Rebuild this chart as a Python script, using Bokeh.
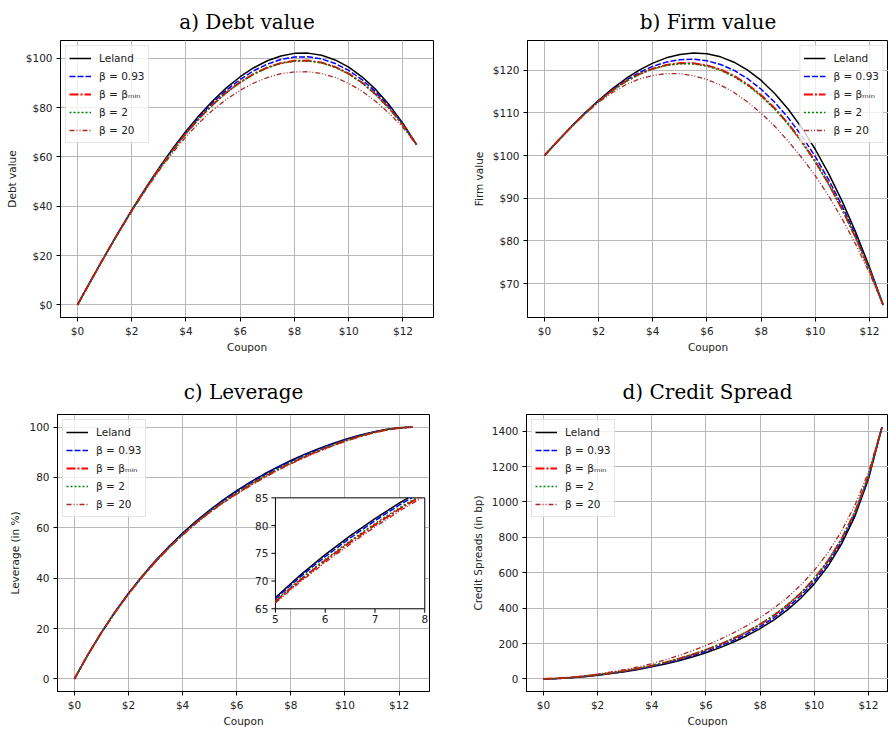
import numpy as np
from bokeh.plotting import figure
from bokeh.layouts import column, row
from bokeh.models import Range1d, FixedTicker
from bokeh.core.properties import value
from bokeh.embed import file_html
from bokeh.resources import INLINE

# ---------------- data ----------------
coupon = [0.0, 0.5, 1.0, 1.5, 2.0, 2.5, 3.0, 3.5, 4.0, 4.5, 5.0, 5.5, 6.0,
          6.5, 7.0, 7.5, 8.0, 8.5, 9.0, 9.5, 10.0, 10.5, 11.0, 11.5, 12.0, 12.5]

series_names = ["Leland", "β = 0.93", "β = βₘᵢₙ", "β = 2", "β = 20"]

debt_leland = [0, 9.96, 19.74, 29.25, 38.42, 47.18, 55.47, 63.24, 70.44, 77.01, 82.92, 88.12, 92.56,
               96.21, 99.03, 100.98, 102.03, 102.13, 101.25, 99.37, 96.43, 92.43, 87.31, 81.05, 73.63, 65.0]
debt_b093 = [0, 9.96, 19.72, 29.20, 38.32, 47.02, 55.23, 62.91, 70.00, 76.42, 82.16, 87.19, 91.46,
             94.97, 97.67, 99.54, 100.53, 100.62, 99.77, 97.95, 95.11, 91.27, 86.35, 80.37, 73.29, 65.0]
debt_bmin = [0, 9.95, 19.70, 29.15, 38.22, 46.86, 54.99, 62.58, 69.56, 75.83, 81.40, 86.26, 90.36,
             93.73, 96.31, 98.10, 99.03, 99.11, 98.29, 96.53, 93.79, 90.11, 85.39, 79.69, 72.95, 65.0]
debt_b2 = [0, 9.95, 19.70, 29.15, 38.21, 46.84, 54.97, 62.55, 69.52, 75.77, 81.32, 86.17, 90.25,
           93.61, 96.17, 97.96, 98.88, 98.96, 98.14, 96.39, 93.66, 89.99, 85.29, 79.62, 72.92, 65.0]
debt_b20 = [0, 9.94, 19.64, 29.00, 37.92, 46.38, 54.27, 61.59, 68.24, 74.06, 79.12, 83.47, 87.06,
            90.01, 92.23, 93.78, 94.53, 94.58, 93.85, 92.27, 89.83, 86.63, 82.51, 77.65, 71.93, 65.0]

firm_leland = [100, 103.47, 106.83, 110.01, 112.96, 115.63, 118.00, 120.03, 121.67, 122.90, 123.69, 124.01, 123.83,
               123.13, 121.87, 120.04, 117.61, 114.56, 110.86, 106.48, 101.42, 95.65, 89.14, 81.87, 73.83, 65.0]
firm_b093 = [100, 103.46, 106.80, 109.94, 112.82, 115.39, 117.62, 119.46, 120.89, 121.90, 122.47, 122.58, 122.21,
             121.35, 119.95, 118.01, 115.53, 112.48, 108.83, 104.59, 99.75, 94.25, 88.03, 81.11, 73.45, 65.0]
firm_bmin = [100, 103.46, 106.78, 109.90, 112.73, 115.22, 117.37, 119.08, 120.36, 121.23, 121.66, 121.62, 121.13,
             120.16, 118.67, 116.66, 114.14, 111.09, 107.48, 103.33, 98.63, 93.31, 87.29, 80.61, 73.20, 65.0]
firm_b2 = [100, 103.46, 106.78, 109.89, 112.72, 115.20, 117.33, 119.02, 120.28, 121.12, 121.53, 121.47, 120.95,
           119.96, 118.46, 116.44, 113.91, 110.86, 107.26, 103.12, 98.44, 93.15, 87.17, 80.53, 73.16, 65.0]
firm_b20 = [100, 103.44, 106.73, 109.76, 112.46, 114.73, 116.60, 117.93, 118.77, 119.20, 119.19, 118.71, 117.83,
            116.53, 114.77, 112.54, 109.91, 106.86, 103.36, 99.48, 95.22, 90.45, 85.04, 79.07, 72.43, 65.0]

lev_leland = [0, 9.63, 18.48, 26.59, 34.01, 40.80, 47.01, 52.69, 57.89, 62.66, 67.04, 71.06, 74.75,
              78.14, 81.26, 84.12, 86.75, 89.15, 91.33, 93.32, 95.08, 96.63, 97.95, 99.00, 99.73, 100.0]
lev_b093 = [0, 9.62, 18.45, 26.54, 33.93, 40.70, 46.88, 52.53, 57.69, 62.43, 66.79, 70.76, 74.40,
            77.76, 80.88, 83.76, 86.40, 88.82, 91.04, 93.07, 94.88, 96.48, 97.85, 98.95, 99.71, 100.0]
lev_bmin = [0, 9.59, 18.40, 26.44, 33.78, 40.50, 46.63, 52.20, 57.29, 61.98, 66.29, 70.16, 73.70,
            77.01, 80.13, 83.03, 85.70, 88.17, 90.47, 92.57, 94.48, 96.18, 97.65, 98.85, 99.67, 100.0]
lev_b2 = [0, 9.60, 18.42, 26.47, 33.83, 40.56, 46.71, 52.30, 57.41, 62.12, 66.44, 70.34, 73.91,
          77.24, 80.36, 83.25, 85.91, 88.37, 90.64, 92.72, 94.60, 96.27, 97.71, 98.88, 99.68, 100.0]
lev_b20 = [0, 9.58, 18.38, 26.39, 33.71, 40.40, 46.51, 52.04, 57.09, 61.76, 66.04, 69.86, 73.35,
           76.64, 79.76, 82.67, 85.35, 87.85, 90.18, 92.32, 94.28, 96.03, 97.55, 98.80, 99.65, 100.0]

spread_leland = [0, 2.0, 6.6, 12.8, 20.6, 29.9, 40.8, 53.4, 67.9, 84.3, 103.0, 124.2, 148.2,
                 175.6, 206.9, 242.7, 284.1, 332.3, 388.9, 456.0, 537.0, 636.0, 759.9, 918.9, 1129.8, 1423.1]
spread_b093 = [0, 2.0, 7.1, 13.7, 21.9, 31.7, 43.2, 56.4, 71.4, 88.9, 108.6, 130.8, 156.0,
               184.4, 216.7, 253.5, 295.8, 344.8, 402.1, 469.9, 551.4, 650.4, 773.9, 930.9, 1137.3, 1423.1]
spread_bmin = [0, 2.5, 7.6, 14.6, 23.3, 33.5, 45.6, 59.3, 75.0, 93.4, 114.3, 137.6, 164.0,
               193.5, 226.8, 264.5, 307.8, 357.6, 415.7, 484.1, 566.2, 665.2, 788.2, 943.1, 1145.0, 1423.1]
spread_b2 = [0, 2.5, 7.6, 14.6, 23.4, 33.7, 45.8, 59.6, 75.4, 93.9, 114.9, 138.3, 164.8,
             194.4, 227.9, 265.6, 309.1, 358.9, 417.1, 485.6, 567.7, 666.8, 789.7, 944.4, 1145.6, 1423.1]
spread_b20 = [0, 3.0, 9.2, 17.2, 27.4, 39.0, 52.8, 68.3, 86.2, 107.6, 132.0, 158.9, 189.2,
              222.1, 259.0, 299.7, 346.3, 398.7, 459.0, 529.6, 613.2, 712.1, 833.2, 981.0, 1168.3, 1423.1]

x_ticks = [0, 2, 4, 6, 8, 10, 12]
x_tick_labels = ["$0", "$2", "$4", "$6", "$8", "$10", "$12"]
debt_ticks = [0, 20, 40, 60, 80, 100]
debt_tick_labels = ["$0", "$20", "$40", "$60", "$80", "$100"]
firm_ticks = [70, 80, 90, 100, 110, 120]
firm_tick_labels = ["$70", "$80", "$90", "$100", "$110", "$120"]
lev_ticks = [0, 20, 40, 60, 80, 100]
lev_tick_labels = ["0", "20", "40", "60", "80", "100"]
spread_ticks = [0, 200, 400, 600, 800, 1000, 1200, 1400]
spread_tick_labels = ["0", "200", "400", "600", "800", "1000", "1200", "1400"]

# inset (zoom of leverage)
inset_x_range = [5, 8]
inset_y_range = [65, 85]
inset_x_ticks = [5, 6, 7, 8]
inset_x_tick_labels = ["5", "6", "7", "8"]
inset_y_ticks = [65, 70, 75, 80, 85]
inset_y_tick_labels = ["65", "70", "75", "80", "85"]
# coupon at which each leverage curve leaves the inset through its top edge
inset_exit_coupon = [7.67, 7.74, 7.87, 7.83, 7.94]

# ---------------- styles ----------------
STYLES = [
    dict(line_color="black", line_width=1.5, line_dash="solid"),
    dict(line_color="blue", line_width=1.5, line_dash="6 2"),
    dict(line_color="red", line_width=2.0, line_dash="9 2 2 2"),
    dict(line_color="green", line_width=1.5, line_dash="2 2"),
    dict(line_color="#a52a2a", line_width=1.3, line_dash="5 2 1 2 1 2"),
]
SANS = "DejaVu Sans"
TXT = "#222222"


def make_fig(title, x_end, y_range, borders, yticks, ylabels, ylabel, title_standoff):
    left, right, top, bottom = borders
    p = figure(width=444, height=365, x_range=Range1d(-0.625, x_end),
               y_range=Range1d(*y_range), output_backend="svg", toolbar_location=None,
               min_border_left=left, min_border_right=right, min_border_top=top,
               min_border_bottom=bottom)
    p.title.text = title
    p.title.align = "center"
    p.title.text_font = "DejaVu Serif"
    p.title.text_font_size = "20px"
    p.title.text_font_style = "normal"
    p.title.text_color = "black"
    p.title.standoff = title_standoff
    p.outline_line_color = "black"
    p.outline_line_width = 1
    p.outline_line_alpha = 1

    p.xaxis.ticker = FixedTicker(ticks=x_ticks)
    p.xaxis.major_label_overrides = dict(zip(x_ticks, x_tick_labels))
    p.yaxis.ticker = FixedTicker(ticks=yticks)
    p.yaxis.major_label_overrides = dict(zip(yticks, ylabels))
    p.xaxis.axis_label = "Coupon"
    p.yaxis.axis_label = ylabel
    for ax in (p.xaxis, p.yaxis):
        ax.axis_label_text_font = SANS
        ax.axis_label_text_font_size = "10.5px"
        ax.axis_label_text_font_style = "normal"
        ax.axis_label_text_color = TXT
        ax.major_label_text_font = SANS
        ax.major_label_text_font_size = "10.5px"
        ax.major_label_text_color = TXT
        ax.major_tick_out = 4
        ax.major_tick_in = 0
        ax.minor_tick_out = 0
        ax.minor_tick_in = 0
        ax.axis_line_color = "black"
        ax.major_tick_line_color = "black"
    p.xaxis.major_label_standoff = 3
    p.xaxis.axis_label_standoff = 1
    p.yaxis.major_label_standoff = 4
    p.yaxis.axis_label_standoff = 5
    p.grid.grid_line_color = "#b8b8b8"
    p.grid.grid_line_width = 1
    return p


def add_lines(p, datasets, legend_loc):
    for name, ys, st in zip(series_names, datasets, STYLES):
        p.line(coupon, ys, legend_label=name, **st)
    lg = p.legend[0]
    lg.location = legend_loc
    lg.margin = 5
    lg.padding = 3
    lg.spacing = 0
    lg.label_text_font = SANS
    lg.label_text_font_size = "10.5px"
    lg.label_text_color = TXT
    lg.glyph_width = 22
    lg.glyph_height = 18
    lg.label_height = 18
    lg.label_standoff = 8
    lg.background_fill_color = "white"
    lg.background_fill_alpha = 0.8
    lg.border_line_color = "#cccccc"
    lg.border_line_width = 1


pa = make_fig("a) Debt value", 13.125, (-5.1, 107.25), (60, 11, 40, 48),
              debt_ticks, debt_tick_labels, "Debt value", 14)
add_lines(pa, [debt_leland, debt_b093, debt_bmin, debt_b2, debt_b20], "top_left")

pb = make_fig("b) Firm value", 12.70, (62.05, 126.96), (83, 0, 40, 48),
              firm_ticks, firm_tick_labels, "Firm value", 14)
add_lines(pb, [firm_leland, firm_b093, firm_bmin, firm_b2, firm_b20], "top_right")

pc = make_fig("c) Leverage", 13.125, (-5, 105), (57, 15, 49, 39),
              lev_ticks, lev_tick_labels, "Leverage (in %)", 22)
lev_sets = [lev_leland, lev_b093, lev_bmin, lev_b2, lev_b20]
add_lines(pc, lev_sets, "top_left")

pd_ = make_fig("d) Credit Spread", 12.74, (-71.2, 1494.3), (82, 0, 49, 39),
               spread_ticks, spread_tick_labels, "Credit Spreads (in bp)", 22)
add_lines(pd_, [spread_leland, spread_b093, spread_bmin, spread_b2, spread_b20], "top_left")

# ---------------- inset in panel c ----------------
INSET_TARGET_X = (7.43, 12.95)
INSET_TARGET_Y = (27.85, 71.9)
sub = pc.subplot(x_source=Range1d(*inset_x_range), y_source=Range1d(*inset_y_range),
                 x_target=Range1d(*INSET_TARGET_X), y_target=Range1d(*INSET_TARGET_Y))
sub.quad(left=[inset_x_range[0]], right=[inset_x_range[1]],
         bottom=[inset_y_range[0]], top=[inset_y_range[1]],
         fill_color="white", line_color="black", line_width=1)
for ys, st, x_exit in zip(lev_sets, STYLES, inset_exit_coupon):
    xs_in = [c for c, v in zip(coupon, ys) if c >= inset_x_range[0] and v < inset_y_range[1]]
    ys_in = [v for c, v in zip(coupon, ys) if c >= inset_x_range[0] and v < inset_y_range[1]]
    sub.line(xs_in + [x_exit], ys_in + [inset_y_range[1]], **st)
sub.ray(x=inset_x_ticks, y=[inset_y_range[0]] * len(inset_x_ticks), length=4,
        length_units="screen", angle=-np.pi / 2, line_color="black", line_width=1)
sub.ray(x=[inset_x_range[0]] * len(inset_y_ticks), y=inset_y_ticks, length=4,
        length_units="screen", angle=np.pi, line_color="black", line_width=1)
sub.text(x=inset_x_ticks, y=[inset_y_range[0]] * len(inset_x_ticks), text=inset_x_tick_labels,
         text_align="center", text_baseline="top", y_offset=6,
         text_font=value(SANS), text_font_size="10.5px", text_color=TXT)
sub.text(x=[inset_x_range[0]] * len(inset_y_ticks), y=inset_y_ticks, text=inset_y_tick_labels,
         text_align="right", text_baseline="middle", x_offset=-7,
         text_font=value(SANS), text_font_size="10.5px", text_color=TXT)

layout = column(row(pa, pb), row(pc, pd_))
open("out.html", "w").write(file_html(layout, INLINE))
